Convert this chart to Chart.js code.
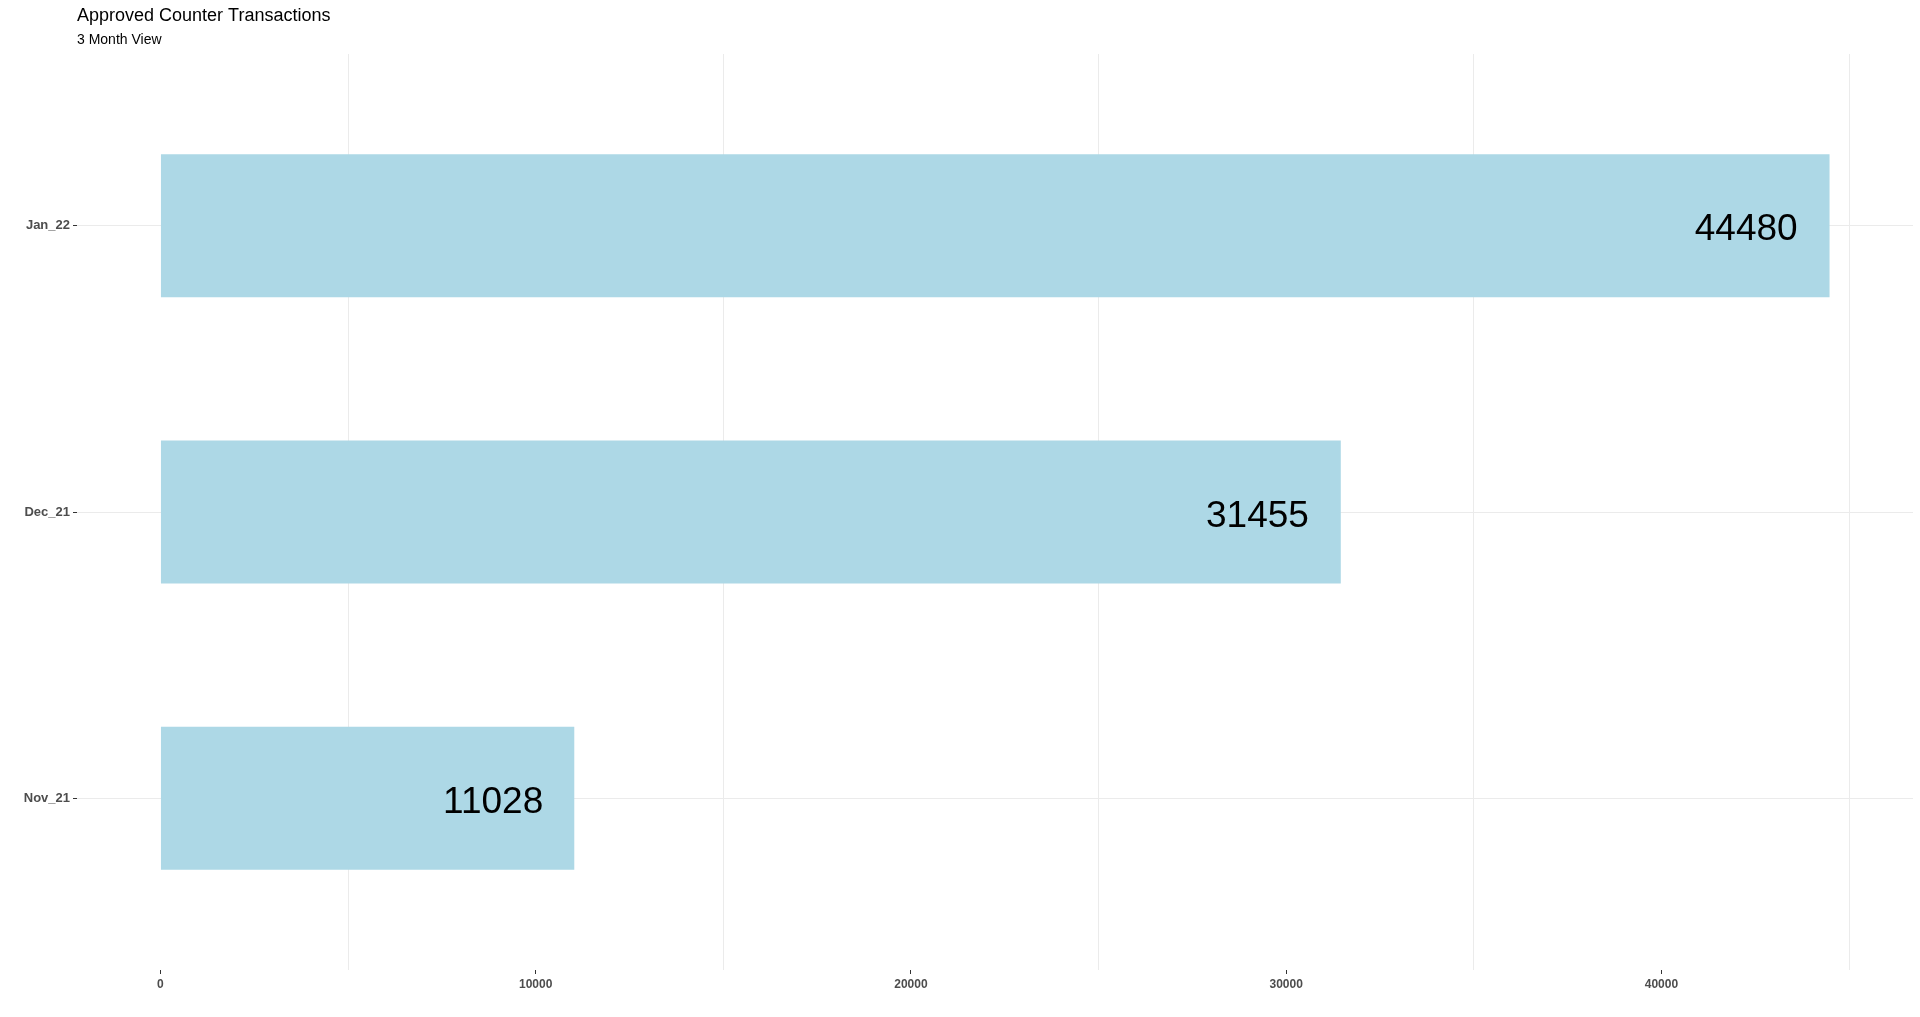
<!DOCTYPE html>
<html>
<head>
<meta charset="utf-8">
<script src="https://cdn.jsdelivr.net/npm/chart.js@4/dist/chart.umd.min.js"></script>
<style>
    html, body { margin: 0; padding: 0; background: #ffffff; }
    #wrap { width: 1920px; height: 1017px; position: relative; }
</style>
</head>
<body>
<div id="wrap"><canvas id="txChart" width="1920" height="1017"></canvas></div>
<script>
// 데이터 (아래부터 위 순서: Nov_21 -> Jan_22)
const months = ['Nov_21', 'Dec_21', 'Jan_22'];
const approvedCounts = [11028, 31455, 44480];
const xMajorTicks = [0, 10000, 20000, 30000, 40000];
const xMinorTicks = [5000, 15000, 25000, 35000, 45000];

const titleText = 'Approved Counter Transactions';
const subtitleText = '3 Month View';

const FONT = '"Liberation Sans", Arial, sans-serif';
const maxVal = Math.max(...approvedCounts);

// 제목/부제목 직접 그리기
const titlePlugin = {
    id: 'titleText',
    afterDraw(chart) {
        const c = chart.ctx;
        c.save();
        c.fillStyle = '#000000';
        c.textAlign = 'left';
        c.textBaseline = 'alphabetic';
        c.font = '18px ' + FONT;
        c.fillText(titleText, chart.chartArea.left, 21);
        c.font = '14px ' + FONT;
        c.fillText(subtitleText, chart.chartArea.left, 44);
        c.restore();
    }
};

// 막대 안쪽 오른쪽에 값 표시
const valueLabels = {
    id: 'valueLabels',
    afterDatasetsDraw(chart) {
        const c = chart.ctx;
        const meta = chart.getDatasetMeta(0);
        c.save();
        c.font = '37px ' + FONT;
        c.fillStyle = '#000000';
        c.textAlign = 'right';
        c.textBaseline = 'alphabetic';
        meta.data.forEach((bar, i) => {
            const txt = String(approvedCounts[i]);
            const w = c.measureText(txt).width;
            // 숫자 높이(약 26px)의 절반만큼 내려서 가운데 맞춤
            c.fillText(txt, bar.x - w * 0.31, bar.y + 14.5);
        });
        c.restore();
    }
};

const isMajor = v => xMajorTicks.includes(v);

new Chart(document.getElementById('txChart'), {
    type: 'bar',
    data: {
        datasets: [{
            data: months.map((m, i) => ({ x: approvedCounts[i], y: i })),
            backgroundColor: '#ADD8E6',
            borderWidth: 0,
            categoryPercentage: 1,
            barPercentage: 0.5
        }]
    },
    options: {
        indexAxis: 'y',
        responsive: false,
        animation: false,
        layout: { padding: { top: 54, right: 7, left: 0, bottom: 0 } },
        plugins: {
            legend: { display: false },
            tooltip: { enabled: false }
        },
        scales: {
            x: {
                type: 'linear',
                min: -maxVal * 0.05,
                max: maxVal * 1.05,
                afterBuildTicks: s => {
                    s.ticks = xMajorTicks.concat(xMinorTicks).sort((a, b) => a - b).map(v => ({ value: v }));
                },
                afterFit: s => { s.height = 47; },
                border: { display: false },
                grid: {
                    color: ctx => isMajor(ctx.tick.value) ? 'rgba(0,0,0,0)' : '#EBEBEB',
                    tickColor: ctx => isMajor(ctx.tick.value) ? '#333333' : 'rgba(0,0,0,0)',
                    tickLength: 4,
                    lineWidth: 1
                },
                ticks: {
                    autoSkip: false,
                    maxRotation: 0,
                    padding: 3,
                    color: '#4D4D4D',
                    font: { family: FONT, size: 12, weight: 'bold' },
                    callback: v => isMajor(v) ? String(v) : ''
                }
            },
            y: {
                type: 'linear',
                min: -0.6,
                max: 2.6,
                offset: false,
                afterBuildTicks: s => {
                    s.ticks = months.map((m, i) => ({ value: i }));
                },
                afterFit: s => { s.width = 77; },
                border: { display: false },
                grid: {
                    offset: false,
                    color: '#EBEBEB',
                    tickColor: '#333333',
                    tickLength: 4,
                    lineWidth: 1
                },
                ticks: {
                    padding: 3,
                    color: '#4D4D4D',
                    font: { family: FONT, size: 13, weight: 'bold' },
                    callback: v => months[v] || ''
                }
            }
        }
    },
    plugins: [titlePlugin, valueLabels]
});
</script>
</body>
</html>
